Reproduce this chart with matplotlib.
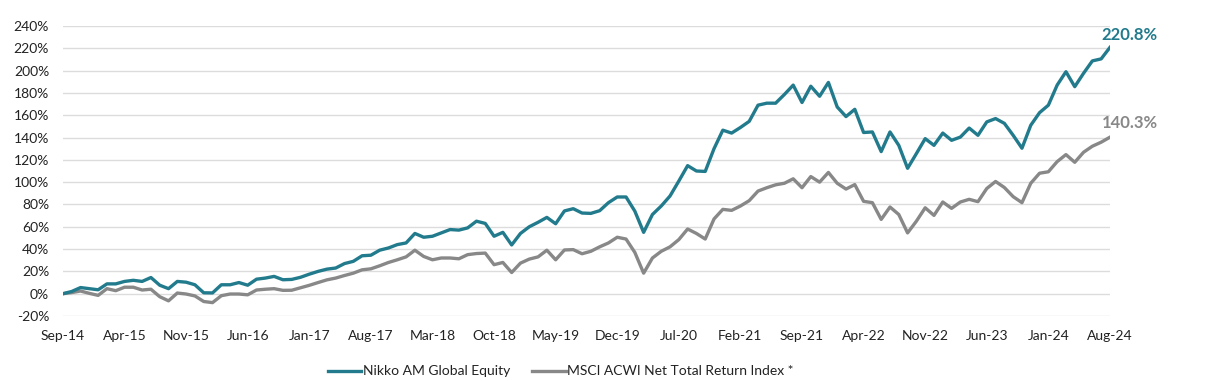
import matplotlib
matplotlib.use("Agg")
import matplotlib.pyplot as plt

# --- data (cumulative return, %) ---
tick_labels = ["Sep-14", "Apr-15", "Nov-15", "Jun-16", "Jan-17", "Aug-17", "Mar-18",
               "Oct-18", "May-19", "Dec-19", "Jul-20", "Feb-21", "Sep-21", "Apr-22",
               "Nov-22", "Jun-23", "Jan-24", "Aug-24"]

nikko = [0, 2, 5.5, 4.5, 3.5, 8.8, 8.8, 11, 12, 11,
         14.5, 7.6, 4.5, 11, 10.3, 8, 0.8, 0.7, 8, 8,
         10, 7.6, 13, 14, 15.5, 12.5, 12.8, 14.7, 17.5, 20,
         22, 23, 27, 29, 34, 34.5, 39, 41, 44, 45.5,
         54, 50.6, 51.5, 54.5, 57.5, 57, 59, 65, 63, 51.5,
         55, 43.7, 54, 60, 64, 68.4, 62.7, 74.2, 76.2, 72.3,
         72, 74.4, 81.6, 86.7, 86.7, 74, 55, 71, 78.6, 87.6,
         101, 114.8, 110, 109.6, 130, 146.6, 144, 149, 154.5, 169,
         170.8, 170.8, 178.6, 187, 171.4, 186, 177, 189.4, 167.4, 158.8,
         165.3, 144.5, 145, 127.4, 145, 133, 112.4, 125.6, 139, 133,
         144, 137.5, 140.4, 148.5, 142, 154, 157, 152.7, 142, 130.4,
         151, 162.3, 169, 187, 199, 185.6, 197.6, 208.7, 210.5, 220.8]

msci = [0, 1, 2.4, 0.3, -1.5, 4.5, 2.7, 5.8, 5.8, 3.3,
        4, -2.7, -6.4, 0.6, -0.3, -2, -7, -8, -1.8, -0.3,
        -0.3, -1, 3.3, 4, 4.5, 3, 3.1, 5.3, 7.5, 10,
        12.4, 14, 16.3, 18.4, 21.4, 22.3, 25, 28, 30.4, 33,
        39, 33.4, 30.4, 32, 32, 31.3, 35, 36, 36.4, 26,
        28, 19, 27.4, 31, 33, 39, 30.4, 39.2, 39.5, 35.8,
        38, 42, 45.5, 50.6, 49, 37, 18.4, 32, 38, 42,
        48.5, 58, 54, 49, 67, 75.6, 74.7, 78.6, 83.4, 92,
        95, 97.6, 99, 103, 95, 105, 100, 108.7, 99, 93.8,
        97.8, 82.8, 81.6, 66.6, 77.7, 71, 54.5, 65, 77, 70.2,
        82.2, 76.5, 82.2, 84.6, 82.5, 94.3, 100.6, 95.2, 87, 81.6,
        99, 108, 109.3, 118.4, 124.7, 117.8, 126.8, 132.2, 135.8, 140.3]

TEAL = "#227B8C"
GREY = "#888888"

plt.rcParams["font.family"] = ["Lato", "DejaVu Sans"]

fig = plt.figure(figsize=(12.27, 3.81), dpi=100)
ax = fig.add_axes([0.0513, 0.1706, 0.8533, 0.7612])

months = list(range(len(nikko)))
ax.plot(months, nikko, color=TEAL, lw=2.4, label="Nikko AM Global Equity", zorder=3)
ax.plot(months, msci, color=GREY, lw=2.4, label="MSCI ACWI Net Total Return Index *", zorder=2)

ax.set_xlim(0, len(nikko) - 1)
ax.set_ylim(-20, 240)
ax.set_yticks(range(-20, 241, 20))
ax.set_yticklabels([f"{v}%" for v in range(-20, 241, 20)])
ax.set_xticks(range(0, len(nikko), 7))
ax.set_xticklabels(tick_labels)
ax.tick_params(axis="both", length=0, labelsize=10, colors="#222222")
ax.tick_params(axis="y", pad=10)
ax.tick_params(axis="x", pad=10)

ax.grid(axis="y", color="#DCDCDC", lw=1)
ax.set_axisbelow(True)
for s in ax.spines.values():
    s.set_visible(False)

# end-point labels
ax.annotate(f"{nikko[-1]:.1f}%", (months[-1], nikko[-1]), xytext=(-6, 9),
            textcoords="offset points", color=TEAL, fontsize=12, fontweight="bold",
            ha="left", va="center", annotation_clip=False)
ax.annotate(f"{msci[-1]:.1f}%", (months[-1], msci[-1]), xytext=(-6, 10),
            textcoords="offset points", color=GREY, fontsize=12, fontweight="bold",
            ha="left", va="center", annotation_clip=False)

fig.legend(loc="center", bbox_to_anchor=(0.457, 0.025), ncol=2, frameon=False,
           fontsize=10, handlelength=2.4, handletextpad=0.1, columnspacing=1.6,
           labelcolor="#222222")

fig.savefig("out.png", dpi=100)
